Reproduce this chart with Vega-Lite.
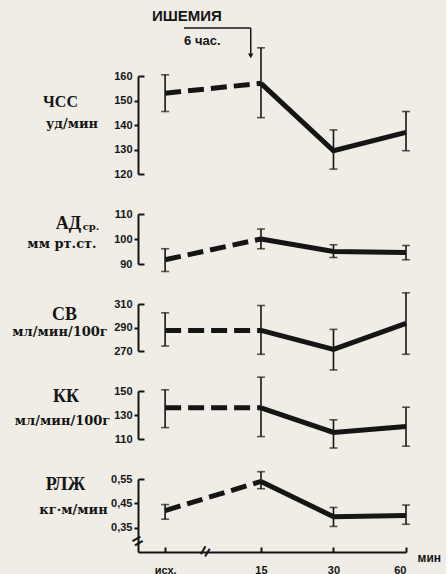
{
 "$schema": "https://vega.github.io/schema/vega-lite/v6.json",
 "background": "#efede6",
 "padding": {"left": 11, "top": 8, "right": 5, "bottom": 0},
 "spacing": 40,
 "bounds": "flush",
 "data": {"values": [
  {"p": "ЧСС", "t": 6, "m": 153, "lo": 145.5, "hi": 160.5},
  {"p": "ЧСС", "t": 15, "m": 157, "lo": 143, "hi": 171.5},
  {"p": "ЧСС", "t": 30, "m": 129.5, "lo": 122, "hi": 138},
  {"p": "ЧСС", "t": 60, "m": 137, "lo": 129.5, "hi": 145.5},
  {"p": "АД", "t": 6, "m": 91.7, "lo": 87, "hi": 96.1},
  {"p": "АД", "t": 15, "m": 100, "lo": 96.1, "hi": 104},
  {"p": "АД", "t": 30, "m": 95, "lo": 92.6, "hi": 97.7},
  {"p": "АД", "t": 60, "m": 94.6, "lo": 91.7, "hi": 97.4},
  {"p": "СВ", "t": 6, "m": 287.5, "lo": 274.2, "hi": 302.5},
  {"p": "СВ", "t": 15, "m": 287.5, "lo": 267.2, "hi": 308.7},
  {"p": "СВ", "t": 30, "m": 271.4, "lo": 253.9, "hi": 288.4},
  {"p": "СВ", "t": 60, "m": 293.5, "lo": 267.2, "hi": 319.5},
  {"p": "КК", "t": 6, "m": 136, "lo": 119.5, "hi": 151},
  {"p": "КК", "t": 15, "m": 136, "lo": 112, "hi": 161.5},
  {"p": "КК", "t": 30, "m": 115.5, "lo": 102.5, "hi": 126},
  {"p": "КК", "t": 60, "m": 120.5, "lo": 104, "hi": 136.5},
  {"p": "РЛЖ", "t": 6, "m": 0.42, "lo": 0.385, "hi": 0.445},
  {"p": "РЛЖ", "t": 15, "m": 0.54, "lo": 0.51, "hi": 0.58},
  {"p": "РЛЖ", "t": 30, "m": 0.395, "lo": 0.355, "hi": 0.433},
  {"p": "РЛЖ", "t": 60, "m": 0.40, "lo": 0.364, "hi": 0.443}
 ]},
 "vconcat": [
  {
   "width": 268, "height": 98,
   "transform": [{"filter": "datum.p == 'ЧСС'"}],
   "layer": [
    {"mark": {"type": "errorbar", "color": "#151515", "ticks": {"size": 8, "thickness": 1.6}, "rule": {"strokeWidth": 1.6}},
     "encoding": {
      "x": {"field": "t", "type": "quantitative", "scale": {"type": "log", "domain": [4.63, 60], "nice": false}, "axis": null},
      "y": {"field": "lo", "type": "quantitative", "scale": {"domain": [120, 160], "nice": false, "zero": false},
            "axis": {"orient": "left", "title": null, "values": [120, 160], "domain": true, "ticks": true, "labels": true, "domainColor": "#141414", "domainWidth": 2, "tickColor": "#141414", "tickWidth": 2, "tickSize": -6, "labelPadding": 12}},
      "y2": {"field": "hi"}
     }},
    {"transform": [{"filter": "datum.t <= 15"}],
     "mark": {"type": "line", "color": "#151515", "strokeWidth": 5, "strokeDash": [16, 7]},
     "encoding": {
      "x": {"field": "t", "type": "quantitative", "scale": {"type": "log", "domain": [4.63, 60], "nice": false}, "axis": null},
      "y": {"field": "m", "type": "quantitative", "scale": {"domain": [120, 160], "nice": false, "zero": false},
            "axis": {"orient": "left", "title": "уд/мин", "titleFont": "DejaVu Serif", "titleFontSize": 13, "titleX": -66.5, "titleY": 47, "domain": false, "ticks": false, "labels": false}}
     }},
    {"transform": [{"filter": "datum.t >= 15"}],
     "mark": {"type": "line", "color": "#151515", "strokeWidth": 5},
     "encoding": {
      "x": {"field": "t", "type": "quantitative", "scale": {"type": "log", "domain": [4.63, 60], "nice": false}, "axis": null},
      "y": {"field": "m", "type": "quantitative", "scale": {"domain": [120, 160], "nice": false, "zero": false},
            "axis": {"orient": "left", "title": "ЧСС", "titleFontSize": 16, "titleX": -78, "titleY": 25, "values": [130, 140, 150], "domain": false, "ticks": true, "labels": true, "tickColor": "#141414", "tickWidth": 2, "tickSize": 4, "labelPadding": 2}}
     }},
    {"data": {"values": [{"a": 1}]},
     "layer": [
      {"mark": {"type": "text", "text": "ИШЕМИЯ", "font": "Liberation Sans", "fontWeight": "bold", "fontSize": 15, "align": "left", "baseline": "middle", "color": "#151515"},
       "encoding": {"x": {"datum": 5.29, "type": "quantitative", "axis": null}, "y": {"datum": 184.5, "type": "quantitative", "axis": null}}},
      {"mark": {"type": "text", "text": "6 час.", "font": "Liberation Sans", "fontWeight": "bold", "fontSize": 13, "align": "left", "baseline": "middle", "color": "#151515"},
       "encoding": {"x": {"datum": 7.19, "type": "quantitative", "axis": null}, "y": {"datum": 174.3, "type": "quantitative", "axis": null}}},
      {"mark": {"type": "rule", "strokeWidth": 1.5, "color": "#151515"},
       "encoding": {"x": {"datum": 7.19, "type": "quantitative", "axis": null}, "x2": {"datum": 13.6}, "y": {"datum": 179.6, "type": "quantitative", "axis": null}}},
      {"mark": {"type": "rule", "strokeWidth": 1.5, "color": "#151515"},
       "encoding": {"x": {"datum": 13.6, "type": "quantitative", "axis": null}, "y": {"datum": 179.6, "type": "quantitative", "axis": null}, "y2": {"datum": 169}}},
      {"mark": {"type": "point", "shape": "triangle-down", "filled": true, "size": 30, "color": "#151515", "opacity": 1},
       "encoding": {"x": {"datum": 13.6, "type": "quantitative", "axis": null}, "y": {"datum": 168.2, "type": "quantitative", "axis": null}}}
     ]}
   ],
   "resolve": {"axis": {"y": "independent"}}
  },
  {
   "width": 268, "height": 50,
   "transform": [{"filter": "datum.p == 'АД'"}],
   "layer": [
    {"mark": {"type": "errorbar", "color": "#151515", "ticks": {"size": 8, "thickness": 1.6}, "rule": {"strokeWidth": 1.6}},
     "encoding": {
      "x": {"field": "t", "type": "quantitative", "scale": {"type": "log", "domain": [4.63, 60], "nice": false}, "axis": null},
      "y": {"field": "lo", "type": "quantitative", "scale": {"domain": [90, 110], "nice": false, "zero": false},
            "axis": {"orient": "left", "title": "ср.", "titleFont": "DejaVu Serif", "titleFontSize": 10, "titleX": -47.5, "titleY": 12, "values": [90, 110], "domain": true, "ticks": true, "labels": true, "domainColor": "#141414", "domainWidth": 2, "tickColor": "#141414", "tickWidth": 2, "tickSize": -6, "labelPadding": 12}},
      "y2": {"field": "hi"}
     }},
    {"transform": [{"filter": "datum.t <= 15"}],
     "mark": {"type": "line", "color": "#151515", "strokeWidth": 5, "strokeDash": [16, 7]},
     "encoding": {
      "x": {"field": "t", "type": "quantitative", "scale": {"type": "log", "domain": [4.63, 60], "nice": false}, "axis": null},
      "y": {"field": "m", "type": "quantitative", "scale": {"domain": [90, 110], "nice": false, "zero": false},
            "axis": {"orient": "left", "title": "мм рт.ст.", "titleFont": "DejaVu Serif", "titleFontSize": 13, "titleX": -76.5, "titleY": 29, "domain": false, "ticks": false, "labels": false}}
     }},
    {"transform": [{"filter": "datum.t >= 15"}],
     "mark": {"type": "line", "color": "#151515", "strokeWidth": 5},
     "encoding": {
      "x": {"field": "t", "type": "quantitative", "scale": {"type": "log", "domain": [4.63, 60], "nice": false}, "axis": null},
      "y": {"field": "m", "type": "quantitative", "scale": {"domain": [90, 110], "nice": false, "zero": false},
            "axis": {"orient": "left", "title": "АД", "titleFontSize": 18, "titleX": -70, "titleY": 9, "values": [100], "domain": false, "ticks": true, "labels": true, "tickColor": "#141414", "tickWidth": 2, "tickSize": 4, "labelPadding": 2}}
     }}
   ],
   "resolve": {"axis": {"y": "independent"}}
  },
  {
   "width": 268, "height": 47,
   "transform": [{"filter": "datum.p == 'СВ'"}],
   "layer": [
    {"mark": {"type": "errorbar", "color": "#151515", "ticks": {"size": 8, "thickness": 1.6}, "rule": {"strokeWidth": 1.6}},
     "encoding": {
      "x": {"field": "t", "type": "quantitative", "scale": {"type": "log", "domain": [4.63, 60], "nice": false}, "axis": null},
      "y": {"field": "lo", "type": "quantitative", "scale": {"domain": [270, 310], "nice": false, "zero": false},
            "axis": {"orient": "left", "title": null, "values": [270, 310], "domain": true, "ticks": true, "labels": true, "domainColor": "#141414", "domainWidth": 2, "tickColor": "#141414", "tickWidth": 2, "tickSize": -6, "labelPadding": 12}},
      "y2": {"field": "hi"}
     }},
    {"transform": [{"filter": "datum.t <= 15"}],
     "mark": {"type": "line", "color": "#151515", "strokeWidth": 5, "strokeDash": [16, 7]},
     "encoding": {
      "x": {"field": "t", "type": "quantitative", "scale": {"type": "log", "domain": [4.63, 60], "nice": false}, "axis": null},
      "y": {"field": "m", "type": "quantitative", "scale": {"domain": [270, 310], "nice": false, "zero": false},
            "axis": {"orient": "left", "title": "мл/мин/100г", "titleFont": "DejaVu Serif", "titleFontSize": 13, "titleX": -78.5, "titleY": 27, "domain": false, "ticks": false, "labels": false}}
     }},
    {"transform": [{"filter": "datum.t >= 15"}],
     "mark": {"type": "line", "color": "#151515", "strokeWidth": 5},
     "encoding": {
      "x": {"field": "t", "type": "quantitative", "scale": {"type": "log", "domain": [4.63, 60], "nice": false}, "axis": null},
      "y": {"field": "m", "type": "quantitative", "scale": {"domain": [270, 310], "nice": false, "zero": false},
            "axis": {"orient": "left", "title": "СВ", "titleFontSize": 18, "titleX": -74, "titleY": 10, "values": [290], "domain": false, "ticks": true, "labels": true, "tickColor": "#141414", "tickWidth": 2, "tickSize": 4, "labelPadding": 2}}
     }}
   ],
   "resolve": {"axis": {"y": "independent"}}
  },
  {
   "width": 268, "height": 48,
   "transform": [{"filter": "datum.p == 'КК'"}],
   "layer": [
    {"mark": {"type": "errorbar", "color": "#151515", "ticks": {"size": 8, "thickness": 1.6}, "rule": {"strokeWidth": 1.6}},
     "encoding": {
      "x": {"field": "t", "type": "quantitative", "scale": {"type": "log", "domain": [4.63, 60], "nice": false}, "axis": null},
      "y": {"field": "lo", "type": "quantitative", "scale": {"domain": [110, 150], "nice": false, "zero": false},
            "axis": {"orient": "left", "title": null, "values": [110, 150], "domain": true, "ticks": true, "labels": true, "domainColor": "#141414", "domainWidth": 2, "tickColor": "#141414", "tickWidth": 2, "tickSize": -6, "labelPadding": 12}},
      "y2": {"field": "hi"}
     }},
    {"transform": [{"filter": "datum.t <= 15"}],
     "mark": {"type": "line", "color": "#151515", "strokeWidth": 5, "strokeDash": [16, 7]},
     "encoding": {
      "x": {"field": "t", "type": "quantitative", "scale": {"type": "log", "domain": [4.63, 60], "nice": false}, "axis": null},
      "y": {"field": "m", "type": "quantitative", "scale": {"domain": [110, 150], "nice": false, "zero": false},
            "axis": {"orient": "left", "title": "мл/мин/100г", "titleFont": "DejaVu Serif", "titleFontSize": 13, "titleX": -76, "titleY": 29, "domain": false, "ticks": false, "labels": false}}
     }},
    {"transform": [{"filter": "datum.t >= 15"}],
     "mark": {"type": "line", "color": "#151515", "strokeWidth": 5},
     "encoding": {
      "x": {"field": "t", "type": "quantitative", "scale": {"type": "log", "domain": [4.63, 60], "nice": false}, "axis": null},
      "y": {"field": "m", "type": "quantitative", "scale": {"domain": [110, 150], "nice": false, "zero": false},
            "axis": {"orient": "left", "title": "КК", "titleFontSize": 18, "titleX": -72.5, "titleY": 5, "values": [130], "domain": false, "ticks": true, "labels": true, "tickColor": "#141414", "tickWidth": 2, "tickSize": 4, "labelPadding": 2}}
     }}
   ],
   "resolve": {"axis": {"y": "independent"}}
  },
  {
   "width": 268, "height": 73,
   "transform": [{"filter": "datum.p == 'РЛЖ'"}],
   "layer": [
    {"mark": {"type": "errorbar", "color": "#151515", "ticks": {"size": 8, "thickness": 1.6}, "rule": {"strokeWidth": 1.6}},
     "encoding": {
      "x": {"field": "t", "type": "quantitative", "scale": {"type": "log", "domain": [4.63, 60], "nice": false}},
      "y": {"field": "lo", "type": "quantitative", "scale": {"domain": [0.25, 0.55], "nice": false, "zero": false},
            "axis": {"orient": "left", "title": null, "values": [0.55], "labelExpr": "replace(format(datum.value, '.2f'), '.', ',')", "domain": true, "ticks": true, "labels": true, "domainColor": "#141414", "domainWidth": 2, "tickColor": "#141414", "tickWidth": 2, "tickSize": -6, "labelPadding": 12}},
      "y2": {"field": "hi"}
     }},
    {"transform": [{"filter": "datum.t <= 15"}],
     "mark": {"type": "line", "color": "#151515", "strokeWidth": 5, "strokeDash": [16, 7]},
     "encoding": {
      "x": {"field": "t", "type": "quantitative", "scale": {"type": "log", "domain": [4.63, 60], "nice": false}},
      "y": {"field": "m", "type": "quantitative", "scale": {"domain": [0.25, 0.55], "nice": false, "zero": false},
            "axis": {"orient": "left", "title": "кг·м/мин", "titleFont": "DejaVu Serif", "titleFontSize": 13, "titleX": -65, "titleY": 30, "domain": false, "ticks": false, "labels": false}}
     }},
    {"transform": [{"filter": "datum.t >= 15"}],
     "mark": {"type": "line", "color": "#151515", "strokeWidth": 5},
     "encoding": {
      "x": {"field": "t", "type": "quantitative", "scale": {"type": "log", "domain": [4.63, 60], "nice": false},
            "axis": {"values": [6, 15, 30, 60], "labelExpr": "datum.value < 10 ? 'исх.' : format(datum.value, 'd')", "labelFont": "Liberation Sans", "labelFontSize": 11,
                     "domain": true, "ticks": true, "labels": true, "domainColor": "#141414", "domainWidth": 2, "tickColor": "#141414", "tickWidth": 2, "tickSize": -5, "labelPadding": 17,
                     "title": "мин", "titleFont": "Liberation Sans", "titleFontSize": 12, "titleX": 279, "titleY": 5, "titleAlign": "left", "titleBaseline": "middle"}},
      "y": {"field": "m", "type": "quantitative", "scale": {"domain": [0.25, 0.55], "nice": false, "zero": false},
            "axis": {"orient": "left", "title": "РЛЖ", "titleFontSize": 18, "titleX": -73, "titleY": 5, "values": [0.35, 0.45],
                     "labelExpr": "replace(format(datum.value, '.2f'), '.', ',')", "domain": false, "ticks": true, "labels": true, "tickColor": "#141414", "tickWidth": 2, "tickSize": 4, "labelPadding": 2}}
     }},
    {"data": {"values": [{"a": 1}]},
     "layer": [
      {"mark": {"type": "text", "text": "=", "font": "Liberation Sans", "fontWeight": "bold", "fontSize": 18, "angle": -30, "align": "center", "baseline": "middle", "color": "#151515"},
       "encoding": {"x": {"datum": 4.63, "type": "quantitative"}, "y": {"datum": 0.292, "type": "quantitative", "axis": null}}},
      {"mark": {"type": "text", "text": "=", "font": "Liberation Sans", "fontWeight": "bold", "fontSize": 18, "angle": -60, "align": "center", "baseline": "middle", "color": "#151515"},
       "encoding": {"x": {"datum": 8.87, "type": "quantitative"}, "y": {"datum": 0.25, "type": "quantitative", "axis": null}}}
     ]}
   ],
   "resolve": {"axis": {"y": "independent"}}
  }
 ],
 "config": {
  "view": {"stroke": null},
  "axis": {"labelColor": "#151515", "labelFont": "Liberation Sans Narrow, Liberation Sans", "labelFontWeight": "bold", "labelFontSize": 11,
           "titleColor": "#151515", "titleFont": "Liberation Serif", "titleFontWeight": "bold", "titleAngle": 0, "titleAlign": "center", "titleBaseline": "middle", "grid": false},
  "text": {"color": "#151515"}
 }
}
